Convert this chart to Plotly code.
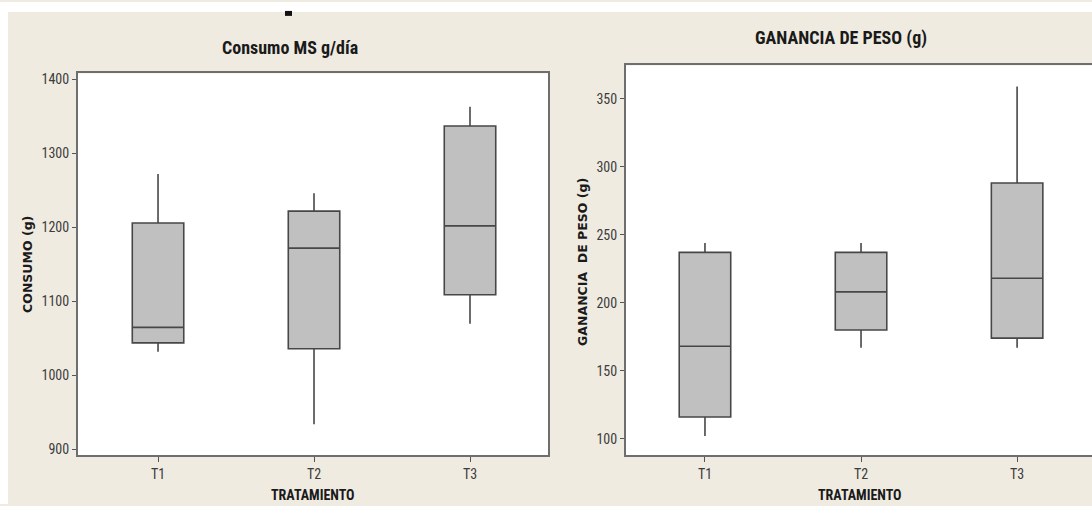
import plotly.graph_objects as go

W, H = 1092, 506

categories = ["T1", "T2", "T3"]

# Consumo MS g/día
consumo_low = [1032, 934, 1070]
consumo_q1 = [1044, 1036, 1109]
consumo_median = [1065, 1172, 1202]
consumo_q3 = [1206, 1222, 1337]
consumo_high = [1272, 1246, 1363]
consumo_ticks = [900, 1000, 1100, 1200, 1300, 1400]

# Ganancia de peso (g)
gan_low = [102, 167, 167]
gan_q1 = [116, 180, 174]
gan_median = [168, 208, 218]
gan_q3 = [237, 237, 288]
gan_high = [244, 244, 359]
gan_ticks = [100, 150, 200, 250, 300, 350]

BEIGE = "#F0EBE1"
NARROW = "Liberation Sans Narrow, Arial Narrow, Roboto Condensed, Roboto, sans-serif"
WIDE = "DejaVu Sans, Verdana, sans-serif"
TICKC = "#3c3c3c"
FRAME = "#6e6e6e"


def px_x(p):
    return p / W


def px_y(p):
    return 1 - p / H


fig = go.Figure()

box_style = dict(
    fillcolor="#c0c0c0",
    line=dict(color="#474747", width=1.6),
    width=0.33,
    whiskerwidth=0,
    boxpoints=False,
    showlegend=False,
    hoverinfo="y",
)

fig.add_trace(go.Box(
    x=categories, q1=consumo_q1, median=consumo_median, q3=consumo_q3,
    lowerfence=consumo_low, upperfence=consumo_high,
    xaxis="x", yaxis="y", **box_style))

fig.add_trace(go.Box(
    x=categories, q1=gan_q1, median=gan_median, q3=gan_q3,
    lowerfence=gan_low, upperfence=gan_high,
    xaxis="x2", yaxis="y2", **box_style))

common_x = dict(
    type="category", showline=True, linecolor=FRAME, linewidth=2,
    ticks="outside", ticklen=5, tickcolor="#555555", tickwidth=1,
    showgrid=False, zeroline=False,
    tickfont=dict(family=NARROW, size=14, color=TICKC),
)
common_y = dict(
    showline=True, linecolor=FRAME, linewidth=2,
    ticks="outside", ticklen=4, tickcolor="#555555", tickwidth=1,
    showgrid=False, zeroline=False,
    tickfont=dict(family=NARROW, size=14, color=TICKC),
)

fig.update_layout(
    width=W, height=H,
    margin=dict(l=0, r=0, t=0, b=0),
    paper_bgcolor=BEIGE,
    plot_bgcolor="white",
    xaxis=dict(domain=[px_x(78), px_x(548)], range=[-0.513, 2.5], mirror=True,
               anchor="y", **common_x),
    yaxis=dict(domain=[px_y(457), px_y(72)], range=[892, 1408],
               tickvals=consumo_ticks, mirror=True, anchor="x", **common_y),
    xaxis2=dict(domain=[px_x(626), 1.0], range=[-0.506, 2.48], mirror=True,
                anchor="y2", **common_x),
    yaxis2=dict(domain=[px_y(457), px_y(64)], range=[87.8, 374.4],
                tickvals=gan_ticks, mirror=False, anchor="x2", **common_y),
    showlegend=False,
)

# white strips of the screenshot (left and top) and the small black mark
fig.add_shape(type="rect", xref="paper", yref="paper", x0=0, x1=px_x(8), y0=0, y1=1,
              fillcolor="white", line=dict(width=0), layer="above")
fig.add_shape(type="rect", xref="paper", yref="paper", x0=0, x1=1, y0=px_y(10), y1=1,
              fillcolor="white", line=dict(width=0), layer="above")
fig.add_shape(type="rect", xref="paper", yref="paper", x0=px_x(285), x1=px_x(292),
              y0=px_y(14), y1=px_y(9), fillcolor="#111111", line=dict(width=0), layer="above")

annots = [
    dict(text="<b>Consumo MS g/día</b>", x=px_x(290), y=px_y(46),
         font=dict(family=NARROW, size=18, color="#1a1a1a")),
    dict(text="<b>GANANCIA DE PESO (g)</b>", x=px_x(841), y=px_y(36),
         font=dict(family=NARROW, size=18, color="#1a1a1a")),
    dict(text="<b>CONSUMO (g)</b>", x=px_x(28), y=px_y(265), textangle=-90,
         font=dict(family=WIDE, size=12.5, color="#1a1a1a")),
    dict(text="<b>GANANCIA  DE PESO (g)</b>", x=px_x(583), y=px_y(262), textangle=-90,
         font=dict(family=WIDE, size=12.5, color="#1a1a1a")),
    dict(text="<b>TRATAMIENTO</b>", x=px_x(313), y=px_y(497),
         font=dict(family=NARROW, size=14, color="#1a1a1a")),
    dict(text="<b>TRATAMIENTO</b>", x=px_x(860), y=px_y(497),
         font=dict(family=NARROW, size=14, color="#1a1a1a")),
]
for a in annots:
    fig.add_annotation(xref="paper", yref="paper", showarrow=False,
                       xanchor="center", yanchor="middle", **a)

fig.write_html(
    "out.html",
    config={"displayModeBar": False},
    post_script="document.body.style.margin='0';document.body.style.overflow='hidden';",
)
